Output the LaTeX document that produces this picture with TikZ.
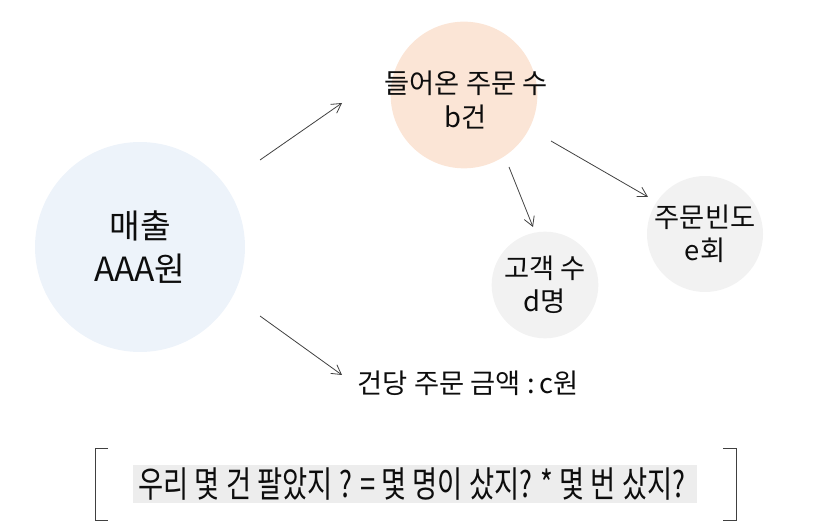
\documentclass[tikz,border=0pt]{standalone}
\usepackage{fontspec}
\setmainfont{Noto Sans CJK KR}
\newfontfamily\condkr[FakeStretch=0.76]{Noto Sans CJK KR}
\usetikzlibrary{arrows.meta}

\definecolor{salesblue}{HTML}{EDF3FA}
\definecolor{orderpeach}{HTML}{FBE5D6}
\definecolor{softgray}{HTML}{F2F2F2}
\definecolor{markgray}{HTML}{EDEDED}
\definecolor{arrowgray}{HTML}{404040}
\definecolor{inkblack}{HTML}{0D0D0D}

\tikzset{
  bubble/.style={circle,inner sep=0pt,align=center,text=inkblack,font=\fontsize{20.5}{25}\selectfont},
  arr/.style={-{Straight Barb[length=7pt,width=8pt]},arrowgray,line width=0.6pt},
  bracketline/.style={line width=0.6pt,arrowgray}
}

\begin{document}
\begin{tikzpicture}[x=0.75pt,y=-0.75pt]
  \useasboundingbox (0,0) rectangle (824,530);

  % circles
  \node[bubble,fill=salesblue,minimum size=157.5pt,font=\fontsize{25}{32}\selectfont] (sales) at (140,247) {매출\\AAA원};
  \node[bubble,fill=orderpeach,minimum size=110pt] (orders) at (464,95) {};
  \node[bubble] (orderstxt) at (466,100) {들어온 주문 수\\b건};
  \node[bubble,fill=softgray,minimum size=80pt] (customers) at (545,285) {고객 수\\d명};
  \node[bubble,fill=softgray,minimum size=82pt] (freq) at (705,234) {주문빈도\\e회};
  \node[text=inkblack,font=\fontsize{20.5}{25}\selectfont] (perorder) at (468,383) {건당 주문 금액 :\,c원};

  % arrow ends
  \coordinate (s1) at (260,160);
  \coordinate (e1) at (342,103);
  \coordinate (s2) at (260,316);
  \coordinate (e2) at (342,375);
  \coordinate (s3) at (509,167);
  \coordinate (e3) at (533,227);
  \coordinate (s4) at (551,141);
  \coordinate (e4) at (648,197);

  \draw[arr] (s1) -- (e1);
  \draw[arr] (s2) -- (e2);
  \draw[arr] (s3) -- (e3);
  \draw[arr] (s4) -- (e4);

  % summary
  \node[fill=markgray,minimum width=423pt,minimum height=28pt,inner sep=0pt] (summarybox) at (415,484) {};
  \node[text=inkblack,font=\condkr\fontsize{27}{30}\selectfont] (summary) at (412,484) {우리 몇 건 팔았지 ? = 몇 명이 샀지? * 몇 번 샀지?};

  \coordinate (lb) at (95,448);
  \coordinate (rb) at (736,448);
  \draw[bracketline] (lb) ++(13,0) -- (lb) -- ++(0,72) -- ++(13,0);
  \draw[bracketline] (rb) ++(-13,0) -- (rb) -- ++(0,72) -- ++(-13,0);
\end{tikzpicture}
\end{document}
